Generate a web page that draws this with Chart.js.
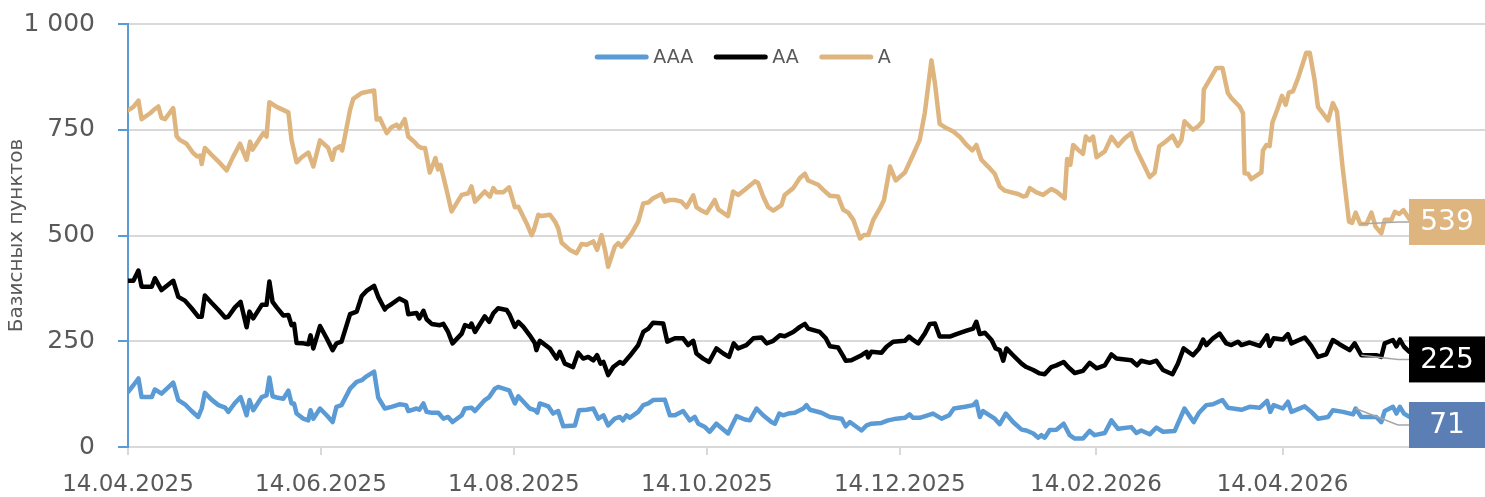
<!DOCTYPE html>
<html>
<head>
<meta charset="utf-8">
<script src="https://cdn.jsdelivr.net/npm/chart.js@4.4.1/dist/chart.umd.min.js"></script>
<style>
  html, body { margin: 0; padding: 0; background: #fff; }
  #wrap { width: 1485px; height: 497px; position: relative; }
</style>
</head>
<body>
<div id="wrap"><canvas id="chart-spreads"></canvas></div>
<script>
// --- Data: days since 14.04.2025, spreads in bp ---
const tickDays = [0, 61, 122, 183, 244, 306, 365];
const tickLabels = ["14.04.2025", "14.06.2025", "14.08.2025", "14.10.2025", "14.12.2025", "14.02.2026", "14.04.2026"];
const seriesNames = ["AAA", "AA", "A"];

const aaaDays = [
  0,1.7,3.3,4.3,7.5,8.5,10.6,14.3,15.9,18.0,
  20.1,22.2,23.3,24.3,26.4,28.6,30.7,31.7,33.8,35.6,
  37.5,38.4,39.6,42.3,43.8,44.7,45.7,47.0,49.1,50.7,
  51.7,52.5,53.3,55.4,57.0,57.7,58.6,60.7,62.8,64.7,
  65.9,67.5,70.2,72.3,73.9,75.4,77.8,79.1,81.2,83.3,
  85.8,87.9,88.6,91.2,92.1,93.4,94.4,96.0,98.1,99.7,
  101.2,102.6,105.5,106.5,108.6,109.7,112.8,114.2,116.0,117.0,
  120.5,122.3,123.4,127.0,128.6,129.4,130.2,132.9,134.4,136.0,
  137.6,141.3,142.6,145.0,147.1,148.7,150.3,151.8,153.9,155.5,
  156.5,157.6,158.6,161.3,162.9,164.5,166.0,169.7,171.3,172.9,
  175.5,177.6,179.2,180.3,182.4,183.9,186.0,189.7,192.4,195.0,
  196.6,198.7,200.8,203.4,204.5,205.9,207.1,208.7,210.8,213.5,
  214.5,215.6,219.2,221.9,225.6,226.9,228.2,231.9,233.5,235.0,
  238.2,240.3,242.9,245.6,247.1,248.2,250.3,254.5,257.2,259.6,
  261.1,264.6,267.2,268.2,269.3,270.3,271.9,274.0,275.6,277.5,
  279.8,282.5,284.0,286.2,287.7,288.8,289.8,291.4,293.5,295.8,
  297.7,299.3,301.9,304.0,305.6,308.8,310.9,313.0,317.2,318.8,
  320.3,323.0,325.1,327.2,330.9,334.0,336.9,338.6,340.9,343.0,
  346.0,347.7,352.0,354.6,357.8,360.1,361.1,362.2,365.1,366.7,
  367.8,372.0,374.1,376.2,379.4,380.9,384.1,387.3,388.1,389.9,
  394.6,396.2,397.3,399.9,401.0,402.1,403.4,405.1
];
const aaaValues = [
  130,146,162,118,118,136,126,152,111,101,
  85,71,91,128,112,99,93,83,104,118,
  75,111,87,118,122,164,120,117,114,133,
  103,103,79,67,63,87,67,91,75,59,
  95,99,138,154,158,167,178,117,91,95,
  101,99,85,91,88,103,83,81,81,67,
  71,59,75,91,93,85,111,118,138,142,
  134,103,120,91,87,81,103,96,79,85,
  49,51,87,88,91,67,75,51,67,71,
  63,75,69,83,99,103,111,112,75,75,
  85,63,71,55,47,36,55,32,73,65,
  63,91,75,59,55,79,75,79,81,91,
  99,88,81,71,67,49,59,39,51,55,
  57,63,67,69,77,69,69,79,67,75,
  91,95,99,107,71,85,77,67,54,79,
  59,41,39,32,22,28,22,40,41,55,
  28,20,20,38,28,33,63,43,47,33,
  39,30,46,36,38,91,59,81,99,101,
  111,93,88,95,93,109,83,99,91,107,
  83,96,83,67,71,87,83,77,91,71,
  71,59,85,95,79,95,79,71
];

const aaDays = [
  0,1.7,3.3,4.3,7.5,8.5,10.6,14.3,15.9,18.0,
  20.1,22.2,23.3,24.3,26.4,28.6,30.7,31.7,33.8,35.6,
  37.5,38.4,39.6,42.3,43.8,44.7,45.7,47.0,49.1,50.7,
  51.7,52.5,53.3,55.4,57.0,57.7,58.6,60.7,62.8,64.7,
  65.9,67.5,70.2,72.3,73.9,75.4,77.8,79.1,81.2,81.7,
  83.3,85.8,87.9,88.6,91.2,92.1,93.4,94.4,96.0,98.6,
  99.7,101.2,102.6,105.5,106.5,108.1,108.6,109.7,112.8,114.2,
  115.5,117.0,119.7,120.7,122.3,123.4,125.0,127.0,128.6,129.1,
  130.2,133.4,135.5,136.5,138.1,140.7,142.3,143.9,145.5,147.1,
  148.3,149.4,150.3,151.8,153.4,155.5,156.5,158.6,161.3,162.9,
  164.5,166.0,169.2,170.5,172.9,175.5,177.1,178.7,179.7,181.8,
  183.7,186.0,188.2,190.0,191.5,192.9,195.5,197.7,200.3,201.9,
  204.0,206.1,207.6,210.3,212.4,214.0,215.0,218.7,220.6,221.9,
  224.5,226.1,226.9,228.7,231.9,233.5,234.0,235.0,238.2,239.8,
  241.9,245.6,246.9,248.2,249.8,251.9,253.5,255.1,256.6,259.8,
  261.9,265.1,267.2,268.2,269.3,270.9,273.0,274.3,275.6,276.7,
  277.7,279.8,282.5,284.0,286.2,288.2,289.8,291.9,293.5,295.8,
  297.2,299.3,301.9,304.0,306.2,308.8,310.9,312.5,317.2,319.0,
  320.3,323.0,325.1,327.2,330.2,331.9,333.7,336.7,338.6,339.9,
  340.9,343.0,345.1,347.2,348.8,350.9,352.0,354.6,357.8,360.1,
  360.9,362.2,365.1,366.7,367.8,372.0,374.1,376.2,378.8,380.9,
  383.0,386.2,387.8,389.9,392.5,394.6,396.2,397.3,399.9,401.0,
  402.1,403.4,405.1
];
const aaValues = [
  393,393,417,379,379,399,371,393,355,346,
  328,308,308,358,341,324,306,308,330,343,
  283,320,304,336,336,391,343,330,311,312,
  288,291,246,245,243,264,233,286,257,229,
  245,249,314,320,357,369,381,355,325,330,
  338,351,343,314,317,304,322,302,291,288,
  291,272,245,268,288,284,292,272,309,296,
  316,328,324,312,284,296,284,264,246,229,
  251,233,209,225,197,189,223,209,213,205,
  217,197,201,170,189,201,197,215,241,272,
  280,294,292,249,257,257,241,251,221,209,
  201,233,221,213,245,233,241,257,259,245,
  251,264,262,272,284,291,280,272,257,238,
  235,215,204,205,217,225,212,225,223,237,
  249,251,261,253,245,268,291,292,261,261,
  267,275,280,296,267,270,253,233,229,204,
  233,217,197,189,182,174,172,189,193,201,
  189,175,180,199,186,193,219,209,205,193,
  204,199,204,182,172,197,233,217,233,254,
  241,257,268,245,241,249,241,247,239,264,
  239,257,254,267,245,259,239,213,219,253,
  243,229,245,217,217,217,213,245,253,238,
  254,237,225
];

const aDays = [
  0,1.7,3.3,4.3,7.0,8.0,9.6,10.6,11.7,14.3,
  15.4,16.4,18.5,20.6,21.9,22.8,23.3,24.3,26.4,29.1,
  31.2,33.3,35.4,37.5,38.6,39.4,41.7,42.8,43.8,44.7,
  47.0,50.7,51.7,53.3,54.9,57.0,58.6,60.7,63.3,64.6,
  65.4,67.0,67.7,70.2,71.2,73.9,77.8,78.6,79.6,81.8,
  83.3,84.9,85.8,87.5,88.6,90.7,91.8,92.8,93.9,95.4,
  96.3,97.2,98.0,98.8,100.7,102.3,105.5,107.6,108.6,109.7,
  112.8,114.4,115.5,116.5,118.6,120.5,122.3,123.4,126.0,127.6,
  128.3,129.7,130.7,133.4,135.0,136.0,137.1,139.7,141.8,143.4,
  145.0,147.1,148.3,149.7,150.8,151.8,153.9,155.0,156.0,157.6,
  159.2,161.3,162.9,164.5,166.0,168.7,169.7,171.3,172.9,175.0,
  176.6,178.7,179.7,181.3,182.9,185.5,186.6,189.7,191.3,192.9,
  195.0,198.2,199.2,200.8,202.4,204.0,206.6,207.6,210.3,212.4,
  214.0,215.0,218.2,219.8,221.9,224.5,226.1,227.7,229.3,231.4,
  232.6,234.0,235.6,237.7,239.0,240.9,242.7,245.6,248.2,250.3,
  251.9,254.0,255.1,256.6,258.7,260.9,263.0,265.1,266.9,268.2,
  269.8,271.9,274.0,275.6,277.2,279.3,281.4,283.0,284.0,285.1,
  287.2,289.3,291.9,293.5,296.1,296.9,297.9,298.8,300.3,301.9,
  302.8,304.0,305.1,306.2,308.8,310.9,313.0,315.1,317.2,318.8,
  320.9,323.0,324.6,326.0,327.7,330.2,331.9,333.0,334.0,336.7,
  338.3,339.7,340.1,342.0,344.1,346.0,347.7,348.8,351.4,352.5,
  353.0,354.1,355.1,358.3,358.8,359.9,360.9,361.8,363.4,364.8,
  366.0,367.0,368.3,369.9,372.5,373.6,375.1,376.2,379.4,380.9,
  382.2,383.9,386.0,387.0,388.1,389.6,391.5,393.1,394.4,396.2,
  397.3,399.4,400.5,401.9,403.2,405.1
];
const aValues = [
  796,804,819,775,789,796,805,778,775,801,
  734,726,717,695,687,689,669,707,691,671,
  654,687,717,679,722,703,730,742,734,815,
  804,791,726,673,685,696,663,725,707,679,
  704,711,701,797,823,837,843,774,777,742,
  756,762,754,775,734,720,711,707,707,649,
  665,683,656,667,608,557,596,600,616,580,
  604,592,612,602,602,614,567,568,529,501,
  513,549,546,549,533,517,483,466,458,480,
  478,486,466,501,466,426,474,482,474,489,
  505,533,576,578,588,598,580,584,584,580,
  567,595,567,559,553,584,562,546,604,596,
  608,628,624,592,567,559,572,596,612,636,
  646,630,620,608,594,592,561,554,537,493,
  501,501,537,564,584,663,630,649,691,726,
  790,914,860,764,754,746,733,714,701,714,
  679,663,646,616,606,602,598,592,594,612,
  602,596,610,604,588,681,667,714,703,693,
  734,725,734,685,699,733,712,730,742,703,
  671,638,649,711,720,736,712,725,770,750,
  758,770,845,869,896,896,837,825,805,789,
  647,646,633,649,701,714,711,767,799,830,
  809,838,841,872,932,932,869,804,772,813,
  793,667,533,530,554,527,527,554,521,505,
  537,537,556,551,560,539
];

const lineColors = ["#5B9BD5", "#000000", "#DEB57E"];
const boxColors = ["#5B7FB5", "#000000", "#DEB57E"];
// where the end-value boxes sit (value on the y axis) and where their leaders start (day)
const boxCenters = [52, 207, 532];
const leaderStartDay = 389;

const GREY = "#595959";
const FONT = "'DejaVu Sans', sans-serif";

function toPoints(days, values) {
  return days.map((d, i) => ({ x: d, y: values[i] }));
}

// --- custom legend, drawn over the plot like the original ---
const topLegend = {
  id: "topLegend",
  afterDraw(chart) {
    const ctx = chart.ctx;
    const lineLen = 55, gap = 4, itemGap = 20, cy = 57;
    ctx.save();
    ctx.font = "19px " + FONT;
    const widths = seriesNames.map(n => ctx.measureText(n).width);
    let total = 0;
    widths.forEach((w, i) => { total += lineLen + gap + w + (i < widths.length - 1 ? itemGap : 0); });
    let x = chart.width / 2 - total / 2;
    seriesNames.forEach((n, i) => {
      ctx.strokeStyle = lineColors[i];
      ctx.lineWidth = 5;
      ctx.lineCap = "round";
      ctx.beginPath();
      ctx.moveTo(x + 3, cy);
      ctx.lineTo(x + lineLen - 3, cy);
      ctx.stroke();
      ctx.fillStyle = GREY;
      ctx.textBaseline = "middle";
      ctx.textAlign = "left";
      ctx.fillText(n, x + lineLen + gap, cy + 1);
      x += lineLen + gap + widths[i] + itemGap;
    });
    ctx.restore();
  }
};

// --- last-value boxes with grey leader lines ---
const endLabels = {
  id: "endLabels",
  afterDatasetsDraw(chart) {
    const ctx = chart.ctx;
    const xs = chart.scales.x, ys = chart.scales.y;
    const boxLeft = 1409, boxRight = chart.width, boxH = 46;
    ctx.save();
    chart.data.datasets.forEach((ds, i) => {
      const pts = ds.data;
      let start = pts[0];
      pts.forEach(p => { if (Math.abs(p.x - leaderStartDay) < Math.abs(start.x - leaderStartDay)) start = p; });
      const cy = ys.getPixelForValue(boxCenters[i]);
      ctx.strokeStyle = "#A6A6A6";
      ctx.lineWidth = 1.5;
      ctx.beginPath();
      ctx.moveTo(xs.getPixelForValue(start.x), ys.getPixelForValue(start.y));
      ctx.lineTo(boxLeft - 11, cy);
      ctx.lineTo(boxLeft, cy);
      ctx.stroke();

      ctx.fillStyle = boxColors[i];
      ctx.fillRect(boxLeft, cy - boxH / 2, boxRight - boxLeft, boxH);
      ctx.fillStyle = "#ffffff";
      ctx.font = "28px " + FONT;
      ctx.textAlign = "center";
      ctx.textBaseline = "middle";
      ctx.fillText(String(pts[pts.length - 1].y), (boxLeft + boxRight) / 2, cy + 1);
    });
    ctx.restore();
  }
};

const ctxSpreads = document.getElementById("chart-spreads").getContext("2d");
new Chart(ctxSpreads, {
  type: "line",
  data: {
    datasets: [
      { label: seriesNames[0], data: toPoints(aaaDays, aaaValues), borderColor: lineColors[0] },
      { label: seriesNames[1], data: toPoints(aaDays, aaValues), borderColor: lineColors[1] },
      { label: seriesNames[2], data: toPoints(aDays, aValues), borderColor: lineColors[2] }
    ]
  },
  options: {
    responsive: true,
    maintainAspectRatio: false,
    animation: false,
    layout: { padding: { top: 24, right: 0, left: 0, bottom: 0 } },
    elements: {
      point: { radius: 0 },
      line: { borderWidth: 4.5, tension: 0, borderJoinStyle: "round", borderCapStyle: "round" }
    },
    plugins: {
      legend: { display: false },
      tooltip: { enabled: false }
    },
    scales: {
      x: {
        type: "linear",
        min: 0,
        max: 429,
        afterBuildTicks: s => { s.ticks = tickDays.map(v => ({ value: v })); },
        afterFit: s => { s.height = 50; s.paddingLeft = 0; s.paddingRight = 0; },
        grid: { drawOnChartArea: false, drawTicks: true, tickLength: 8, tickColor: "#D9D9D9", lineWidth: 2 },
        border: { display: false },
        ticks: {
          autoSkip: false,
          maxRotation: 0,
          padding: 16,
          color: GREY,
          font: { family: FONT, size: 23 },
          callback: v => tickLabels[tickDays.indexOf(v)]
        }
      },
      y: {
        min: 0,
        max: 1000,
        afterFit: s => { s.width = 128; s.paddingTop = 0; s.paddingBottom = 0; },
        grid: { color: "#D9D9D9", lineWidth: 2, tickColor: "#5B9BD5", tickLength: 10 },
        border: { color: "#5B9BD5", width: 2 },
        ticks: {
          stepSize: 250,
          padding: 23,
          color: GREY,
          font: { family: FONT, size: 25 },
          callback: v => v >= 1000 ? "1 000" : String(v)
        },
        title: {
          display: true,
          text: "Базисных пунктов",
          color: GREY,
          font: { family: FONT, size: 20 },
          padding: { top: 5, bottom: 0 }
        }
      }
    }
  },
  plugins: [topLegend, endLabels]
});
</script>
</body>
</html>
